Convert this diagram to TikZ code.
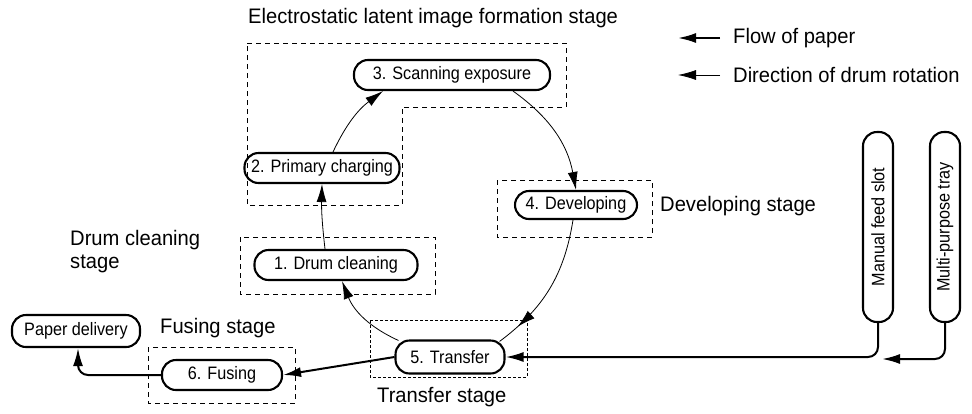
\documentclass[tikz,border=0pt]{standalone}
\usepackage{fontspec}
\setmainfont{Liberation Sans}
\newfontfamily\nodefont[FakeStretch=0.9]{Liberation Sans}
\newfontfamily\lblfont[FakeStretch=0.96]{Liberation Sans}
\usetikzlibrary{arrows.meta,calc,decorations.markings}
\begin{document}
\begin{tikzpicture}[x=1pt,y=-1pt,
  proc/.style={rectangle, draw, line width=2.1pt, rounded corners=14pt, inner sep=0pt,
    font=\nodefont\fontsize{18}{20}\selectfont, minimum height=30pt},
  vproc/.style={rectangle, draw, line width=2.1pt, rounded corners=14pt, inner sep=0pt,
    font=\nodefont\fontsize{18}{20}\selectfont, minimum width=30pt, minimum height=190pt},
  lbl/.style={anchor=west, inner sep=0pt, font=\lblfont\fontsize{21}{23}\selectfont},
  stagebox/.style={draw, line width=0.8pt, dash pattern=on 5pt off 4pt},
  finebox/.style={draw, line width=0.8pt, dash pattern=on 3pt off 2pt},
  drum/.style={line width=0.8pt, -{Latex[length=18pt,width=10pt]}},
  paper/.style={line width=2pt, -{Latex[length=18pt,width=10pt]}},
  midtip/.style={line width=0.8pt, postaction={decorate},
    decoration={markings, mark=at position #1 with {\arrow{Latex[length=18pt,width=10pt]}}}},
]
\useasboundingbox (0,0) rectangle (972,413);

% dashed stage boxes
\draw[stagebox] (247,43) -- (566,43) -- (566,107) -- (402,107) -- (402,205) -- (247,205) -- cycle;
\draw[stagebox] (497,180) rectangle (652,237);
\draw[stagebox] (240,237) rectangle (435,294);
\draw[finebox] (370,320) rectangle (527,377);
\draw[stagebox] (148,347) rectangle (295,403);

% process nodes
\node[proc, minimum width=196pt] (n3) at (452,75) {3. Scanning exposure};
\node[proc, minimum width=155pt] (n2) at (322,168) {2. Primary charging};
\node[proc, minimum width=122pt, minimum height=28pt] (n4) at (576,205) {4. Developing};
\node[proc, minimum width=163pt] (n1) at (336,265) {1. Drum cleaning};
\node[proc, minimum width=109pt, minimum height=33pt] (n5) at (450,357) {5. Transfer};
\node[proc, minimum width=120pt] (n6) at (222,375) {6. Fusing};
\node[proc, minimum width=128pt, minimum height=32pt] (pd) at (76,331) {Paper delivery};
\node[vproc] (mf) at (878,227) {\rotatebox{90}{Manual feed slot}};
\node[vproc] (mp) at (945,227) {\rotatebox{90}{Multi-purpose tray}};

% stage labels
\node[lbl] (tElec) at (248,18) {Electrostatic latent image formation stage};
\node[lbl] (tDev) at (660,206) {Developing stage};
\node[lbl, align=left] (tDrum) at (70,252) {Drum cleaning\\stage};
\node[lbl] (tFus) at (160,328) {Fusing stage};
\node[lbl] (tTr) at (377,397) {Transfer stage};

% legend
\coordinate (la1) at (720,38);
\coordinate (lb1) at (678,38);
\coordinate (la2) at (720,75);
\coordinate (lb2) at (678,75);
\draw[paper] (la1) -- (lb1);
\draw[drum] (la2) -- (lb2);
\node[lbl] (tFlow) at (733,38) {Flow of paper};
\node[lbl] (tDir) at (733,75) {Direction of drum rotation};

% drum rotation
\draw[drum] ([xshift=-11pt]n1.north) to[bend left=4] (n2.south);
\draw[drum] ([xshift=11pt]n2.north) to[bend left=14] ([xshift=-69pt]n3.south);
\draw[drum] ([xshift=61pt]n3.south) to[bend left=22] (n4.north);
\coordinate (n5tr) at ($(n5.north east)+(-6,2)$);
\draw[midtip=0.84] ([xshift=-3pt]n4.south) to[bend left=22] (n5tr);
\coordinate (n5tl) at ($(n5.north west)+(4,1)$);
\draw[drum] (n5tl) to[bend left=22] ([xshift=6pt]n1.south);

% paper flow
\coordinate (mpend) at (882,359);
\draw[paper, rounded corners=10pt] (mf.south) |- (n5.east);
\draw[paper, rounded corners=10pt] (mp.south) |- (mpend);
\draw[paper] (n5.west) -- (n6.east);
\draw[paper, rounded corners=10pt] (n6.west) -| ([xshift=2pt]pd.south);
\end{tikzpicture}
\end{document}
